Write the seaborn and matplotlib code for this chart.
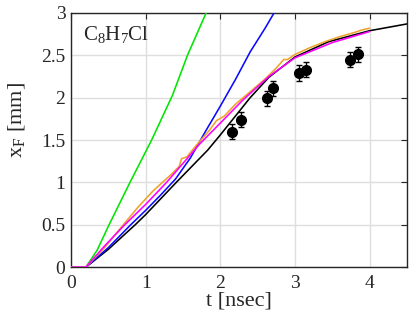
import numpy as np
import pandas as pd
import matplotlib
matplotlib.use("Agg")
import matplotlib.pyplot as plt
import seaborn as sns

# -------------------------------
# datos
# -------------------------------
t_negro = [0.0, 0.2, 0.5, 0.86, 1.0, 1.41, 1.83, 2.0, 2.4, 2.65, 3.0, 3.45, 4.0, 4.5]
x_negro = [0.0, 0.0, 0.21, 0.5, 0.62, 1.0, 1.38, 1.56, 2.0, 2.24, 2.48, 2.66, 2.79, 2.87]

t_azul = [0.0, 0.2, 0.5, 0.8, 1.0, 1.2, 1.4, 1.6, 1.8, 2.0, 2.2, 2.4, 2.6, 2.72, 2.8]
x_azul = [0.0, 0.0, 0.23, 0.5, 0.67, 0.85, 1.04, 1.29, 1.6, 1.9, 2.21, 2.54, 2.82, 3.0, 3.12]

t_verde = [0.0, 0.2, 0.35, 0.51, 0.79, 1.08, 1.36, 1.56, 1.81, 1.9]
x_verde = [0.0, 0.0, 0.2, 0.5, 1.0, 1.5, 2.03, 2.5, 3.0, 3.15]

t_magenta = [0.0, 0.2, 0.45, 0.72, 1.0, 1.28, 1.72, 2.0, 2.3, 2.65, 3.0, 3.5, 4.0]
x_magenta = [0.0, 0.0, 0.25, 0.5, 0.74, 1.0, 1.45, 1.70, 1.97, 2.25, 2.47, 2.65, 2.78]

t_naranja = [0.0, 0.2, 0.45, 0.7, 0.9, 1.1, 1.2, 1.35, 1.45, 1.48, 1.55, 1.7, 1.85,
             1.95, 2.05, 2.2, 2.4, 2.6, 2.75, 2.85, 2.9, 3.0, 3.2, 3.4, 3.6, 3.8, 3.9, 4.0]
x_naranja = [0.0, 0.0, 0.23, 0.5, 0.71, 0.9, 0.98, 1.1, 1.19, 1.28, 1.30, 1.46, 1.61,
             1.73, 1.78, 1.92, 2.07, 2.22, 2.35, 2.45, 2.45, 2.51, 2.59, 2.66, 2.72, 2.77, 2.80, 2.82]

t_exp = [2.16, 2.28, 2.62, 2.71, 3.05, 3.15, 3.74, 3.84]
x_exp = [1.60, 1.74, 1.99, 2.11, 2.29, 2.33, 2.45, 2.51]
err_exp = [0.09, 0.09, 0.09, 0.09, 0.09, 0.09, 0.09, 0.09]

# -------------------------------
# estilo
# -------------------------------
sns.set_style("whitegrid")
plt.rcParams['font.family'] = ['Liberation Serif', 'DejaVu Serif']
plt.rcParams['mathtext.default'] = 'regular'

fig = plt.figure(figsize=(4.09, 3.15), dpi=100)
ax = fig.add_axes([0.1736, 0.152, 0.8214, 0.807])

curvas = [
    (t_negro, x_negro, 'black'),
    (t_azul, x_azul, '#0a0aff'),
    (t_verde, x_verde, '#00e600'),
    (t_naranja, x_naranja, '#eda32c'),
    (t_magenta, x_magenta, '#ff00ff'),
]
for t, x, c in curvas:
    df = pd.DataFrame({'t': t, 'x': x})
    sns.lineplot(data=df, x='t', y='x', color=c, lw=1.15, sort=False,
                 estimator=None, ax=ax, zorder=3)

ax.errorbar(t_exp, x_exp, yerr=err_exp, fmt='o', color='black', ms=7,
            capsize=2, elinewidth=1, capthick=1, zorder=5)

ax.set_xlim(0, 4.5)
ax.set_ylim(0, 3)
ax.set_xticks([0, 1, 2, 3, 4])
ax.set_yticks([0, 0.5, 1, 1.5, 2, 2.5, 3])
ax.set_yticklabels(['0', '0.5', '1', '1.5', '2', '2.5', '3'])
ax.tick_params(direction='in', top=True, right=True, length=4, width=0.8,
               labelsize=14, colors='#262626')
ax.tick_params(axis='x', pad=6)
ax.tick_params(axis='y', pad=4)
for s in ax.spines.values():
    s.set_color('#262626')
    s.set_linewidth(1.0)
ax.grid(True, color='#dedede', lw=1.0)

ax.set_xlabel('t [nsec]', fontsize=16, labelpad=-1, color='#262626')
ax.set_ylabel('x$_F$ [mm]', fontsize=16, color='#262626')
ax.yaxis.set_label_coords(-0.13, 0.58)
ax.text(0.035, 0.955, 'C$_8$H$_7$Cl', transform=ax.transAxes, fontsize=15,
        va='top', ha='left', color='#262626')

fig.savefig('out.png', dpi=100)
